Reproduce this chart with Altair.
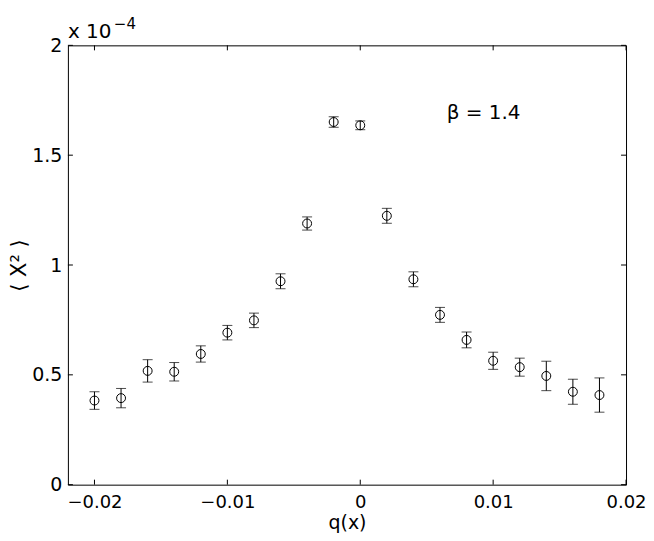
import altair as alt
import pandas as pd

# ---- data (y in units of 1e-4) ----
q_vals = [-0.020, -0.018, -0.016, -0.014, -0.012, -0.010, -0.008, -0.006, -0.004, -0.002,
          0.000, 0.002, 0.004, 0.006, 0.008, 0.010, 0.012, 0.014, 0.016, 0.018]
x2_mean = [0.383, 0.394, 0.518, 0.514, 0.595, 0.692, 0.748, 0.926, 1.189, 1.651,
           1.636, 1.224, 0.935, 0.773, 0.659, 0.564, 0.535, 0.495, 0.423, 0.408]
x2_err = [0.040, 0.044, 0.051, 0.042, 0.037, 0.033, 0.033, 0.034, 0.030, 0.024,
          0.020, 0.034, 0.034, 0.034, 0.036, 0.039, 0.041, 0.067, 0.057, 0.078]

x_ticks = [-0.02, -0.01, 0.0, 0.01, 0.02]
y_ticks = [0.0, 0.5, 1.0, 1.5, 2.0]

ann_x = [0.0065]
ann_y = [1.69]
ann_text = ["β = 1.4"]

exp_x = [-0.022]
exp_y = [2.0]
exp_base = ["x 10"]
exp_power = ["−4"]

W, H = 559, 440
FONT = "DejaVu Sans"

df = pd.DataFrame({"q": q_vals, "mean": x2_mean, "err": x2_err})
df["lo"] = df["mean"] - df["err"]
df["hi"] = df["mean"] + df["err"]

x_scale = alt.Scale(domain=[-0.022, 0.02], nice=False, zero=False)
y_scale = alt.Scale(domain=[0, 2], nice=False, zero=False)

xaxis = alt.Axis(values=x_ticks, format=".2~f", title="q(x)", domain=False, ticks=False,
                 tickSize=0, grid=False, labelFontSize=18, labelPadding=9, labelFont=FONT,
                 labelColor="black", titleFont=FONT, titleFontSize=19, titleFontWeight="normal",
                 titleColor="black", titlePadding=2, labelFlush=False, labelOverlap=False)
yaxis = alt.Axis(values=y_ticks, format="~g", title="⟨ X² ⟩", domain=False, ticks=False,
                 tickSize=0, grid=False, labelFontSize=19, labelPadding=6, labelFont=FONT,
                 labelColor="black", titleFont=FONT, titleFontSize=21, titleFontWeight="normal",
                 titleColor="black", titlePadding=2, labelFlush=False, labelOverlap=False)

X = alt.X("q:Q", scale=x_scale, axis=xaxis)

base = alt.Chart(df)
bars = base.mark_rule(color="black", strokeWidth=1).encode(
    x=X, y=alt.Y("lo:Q", scale=y_scale, axis=yaxis), y2="hi:Q")
cap_lo = base.mark_tick(orient="horizontal", size=10, thickness=1, color="black").encode(
    x=X, y=alt.Y("lo:Q", scale=y_scale, axis=yaxis))
cap_hi = base.mark_tick(orient="horizontal", size=10, thickness=1, color="black").encode(
    x=X, y=alt.Y("hi:Q", scale=y_scale, axis=yaxis))
points = base.mark_point(shape="circle", filled=False, size=80, strokeWidth=1,
                         color="black", opacity=1).encode(
    x=X, y=alt.Y("mean:Q", scale=y_scale, axis=yaxis))

# inward ticks on all four sides
xt = pd.DataFrame({"xt": x_ticks})
yt = pd.DataFrame({"yt": y_ticks})
XT = alt.X("xt:Q", scale=x_scale, axis=xaxis)
YT = alt.Y("yt:Q", scale=y_scale, axis=yaxis)
tick_b = alt.Chart(xt).mark_rule(color="black", strokeWidth=1).encode(
    x=XT, y=alt.value(H), y2=alt.value(H - 5))
tick_t = alt.Chart(xt).mark_rule(color="black", strokeWidth=1).encode(
    x=XT, y=alt.value(0), y2=alt.value(5))
tick_l = alt.Chart(yt).mark_rule(color="black", strokeWidth=1).encode(
    y=YT, x=alt.value(0), x2=alt.value(5))
tick_r = alt.Chart(yt).mark_rule(color="black", strokeWidth=1).encode(
    y=YT, x=alt.value(W), x2=alt.value(W - 5))

ann = alt.Chart(pd.DataFrame({"x": ann_x, "y": ann_y, "t": ann_text})).mark_text(
    align="left", baseline="middle", font=FONT, fontSize=20, color="black").encode(
    x=alt.X("x:Q", scale=x_scale, axis=xaxis), y=alt.Y("y:Q", scale=y_scale, axis=yaxis), text="t:N")

exp_df = pd.DataFrame({"x": exp_x, "y": exp_y, "b": exp_base, "p": exp_power})
exp1 = alt.Chart(exp_df).mark_text(
    align="left", baseline="alphabetic", dy=-7, font=FONT, fontSize=20, color="black").encode(
    x=alt.X("x:Q", scale=x_scale, axis=xaxis), y=alt.Y("y:Q", scale=y_scale, axis=yaxis), text="b:N")
exp2 = alt.Chart(exp_df).mark_text(
    align="left", baseline="alphabetic", dx=46, dy=-16, font=FONT, fontSize=15, color="black").encode(
    x=alt.X("x:Q", scale=x_scale, axis=xaxis), y=alt.Y("y:Q", scale=y_scale, axis=yaxis), text="p:N")

chart = alt.layer(bars, cap_lo, cap_hi, points, tick_b, tick_t, tick_l, tick_r, ann, exp1, exp2).properties(
    width=W, height=H,
    autosize=alt.AutoSizeParams(type="none"),
    padding={"left": 60, "top": 37, "right": 20, "bottom": 50},
    background="white",
).configure_view(stroke="black", strokeWidth=1)

chart.save("out.html", embed_options={"renderer": "svg", "actions": False})
